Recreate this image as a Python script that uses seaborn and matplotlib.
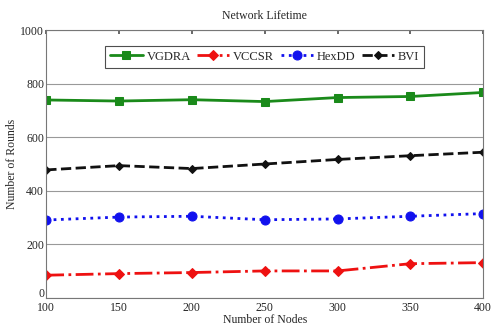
import matplotlib
matplotlib.use("Agg")
import matplotlib.pyplot as plt
import matplotlib.transforms as mtransforms
import seaborn as sns
import pandas as pd

nodes = [100, 150, 200, 250, 300, 350, 400]
vgdra = [739, 735, 740, 733, 748, 752, 767]
vccsr = [85, 91, 95, 101, 101, 128, 132]
hexdd = [291, 302, 305, 292, 295, 305, 315]
bvi = [478, 494, 483, 500, 517, 531, 544]
series_names = ["VGDRA", "VCCSR", "HexDD", "BVI"]

sns.set_theme(style="white")
plt.rcParams['font.family'] = ['Liberation Serif', 'DejaVu Serif']

df = pd.DataFrame({"Nodes": nodes * 4,
                   "Rounds": vgdra + vccsr + hexdd + bvi,
                   "Series": sum([[n] * len(nodes) for n in series_names], [])})

fig, ax = plt.subplots(figsize=(4.92, 3.30), dpi=100)
fig.subplots_adjust(left=0.094, right=0.982, top=0.909, bottom=0.097)

colors = {"VGDRA": "#1a8a1a", "VCCSR": "#ee1111", "HexDD": "#1111ee", "BVI": "#111111"}
styles = {"VGDRA": "-", "VCCSR": "-.", "HexDD": ":", "BVI": "--"}
markers = {"VGDRA": "s", "VCCSR": "D", "HexDD": "o", "BVI": "D"}
msizes = {"VGDRA": 6, "VCCSR": 5.5, "HexDD": 6.5, "BVI": 4.5}

for name in series_names:
    sub = df[df["Series"] == name]
    sns.lineplot(data=sub, x="Nodes", y="Rounds", ax=ax, color=colors[name],
                 linestyle=styles[name], marker=markers[name], markersize=msizes[name],
                 markeredgecolor=colors[name], linewidth=2, label=name)

ax.set_xlim(100, 400)
ax.set_ylim(0, 1000)
ax.set_xticks(nodes)
ax.set_yticks([0, 200, 400, 600, 800, 1000])
ax.yaxis.grid(True, color="#999999", linewidth=0.8)
ax.tick_params(axis="both", labelsize=8.5, direction="in", length=3, color="#555555",
               top=True, right=False)
ax.tick_params(axis="x", pad=3)
ax.tick_params(axis="y", pad=1.5)
for s in ax.spines.values():
    s.set_color("#777777")
    s.set_linewidth(0.8)
ax.set_xlabel("Number of Nodes", fontsize=8.5, labelpad=0)
ax.set_ylabel("Number of Rounds", fontsize=8.5, labelpad=2)
ax.set_title("Network Lifetime", fontsize=8.5, pad=8)

# nudge the "0" label up a little so it does not collide with "100"
zero_lbl = ax.get_yticklabels()[0]
zero_lbl.set_transform(zero_lbl.get_transform() +
                       mtransforms.ScaledTranslation(0, 4 / 72, fig.dpi_scale_trans))

leg = ax.legend(loc="upper center", bbox_to_anchor=(0.5, 0.965), ncol=4, fontsize=9,
                frameon=True, fancybox=False, edgecolor="#222222", handlelength=2.6,
                columnspacing=0.5, handletextpad=0.3, borderpad=0.4)
leg.get_frame().set_linewidth(0.8)

fig.savefig("out.png", dpi=100)
